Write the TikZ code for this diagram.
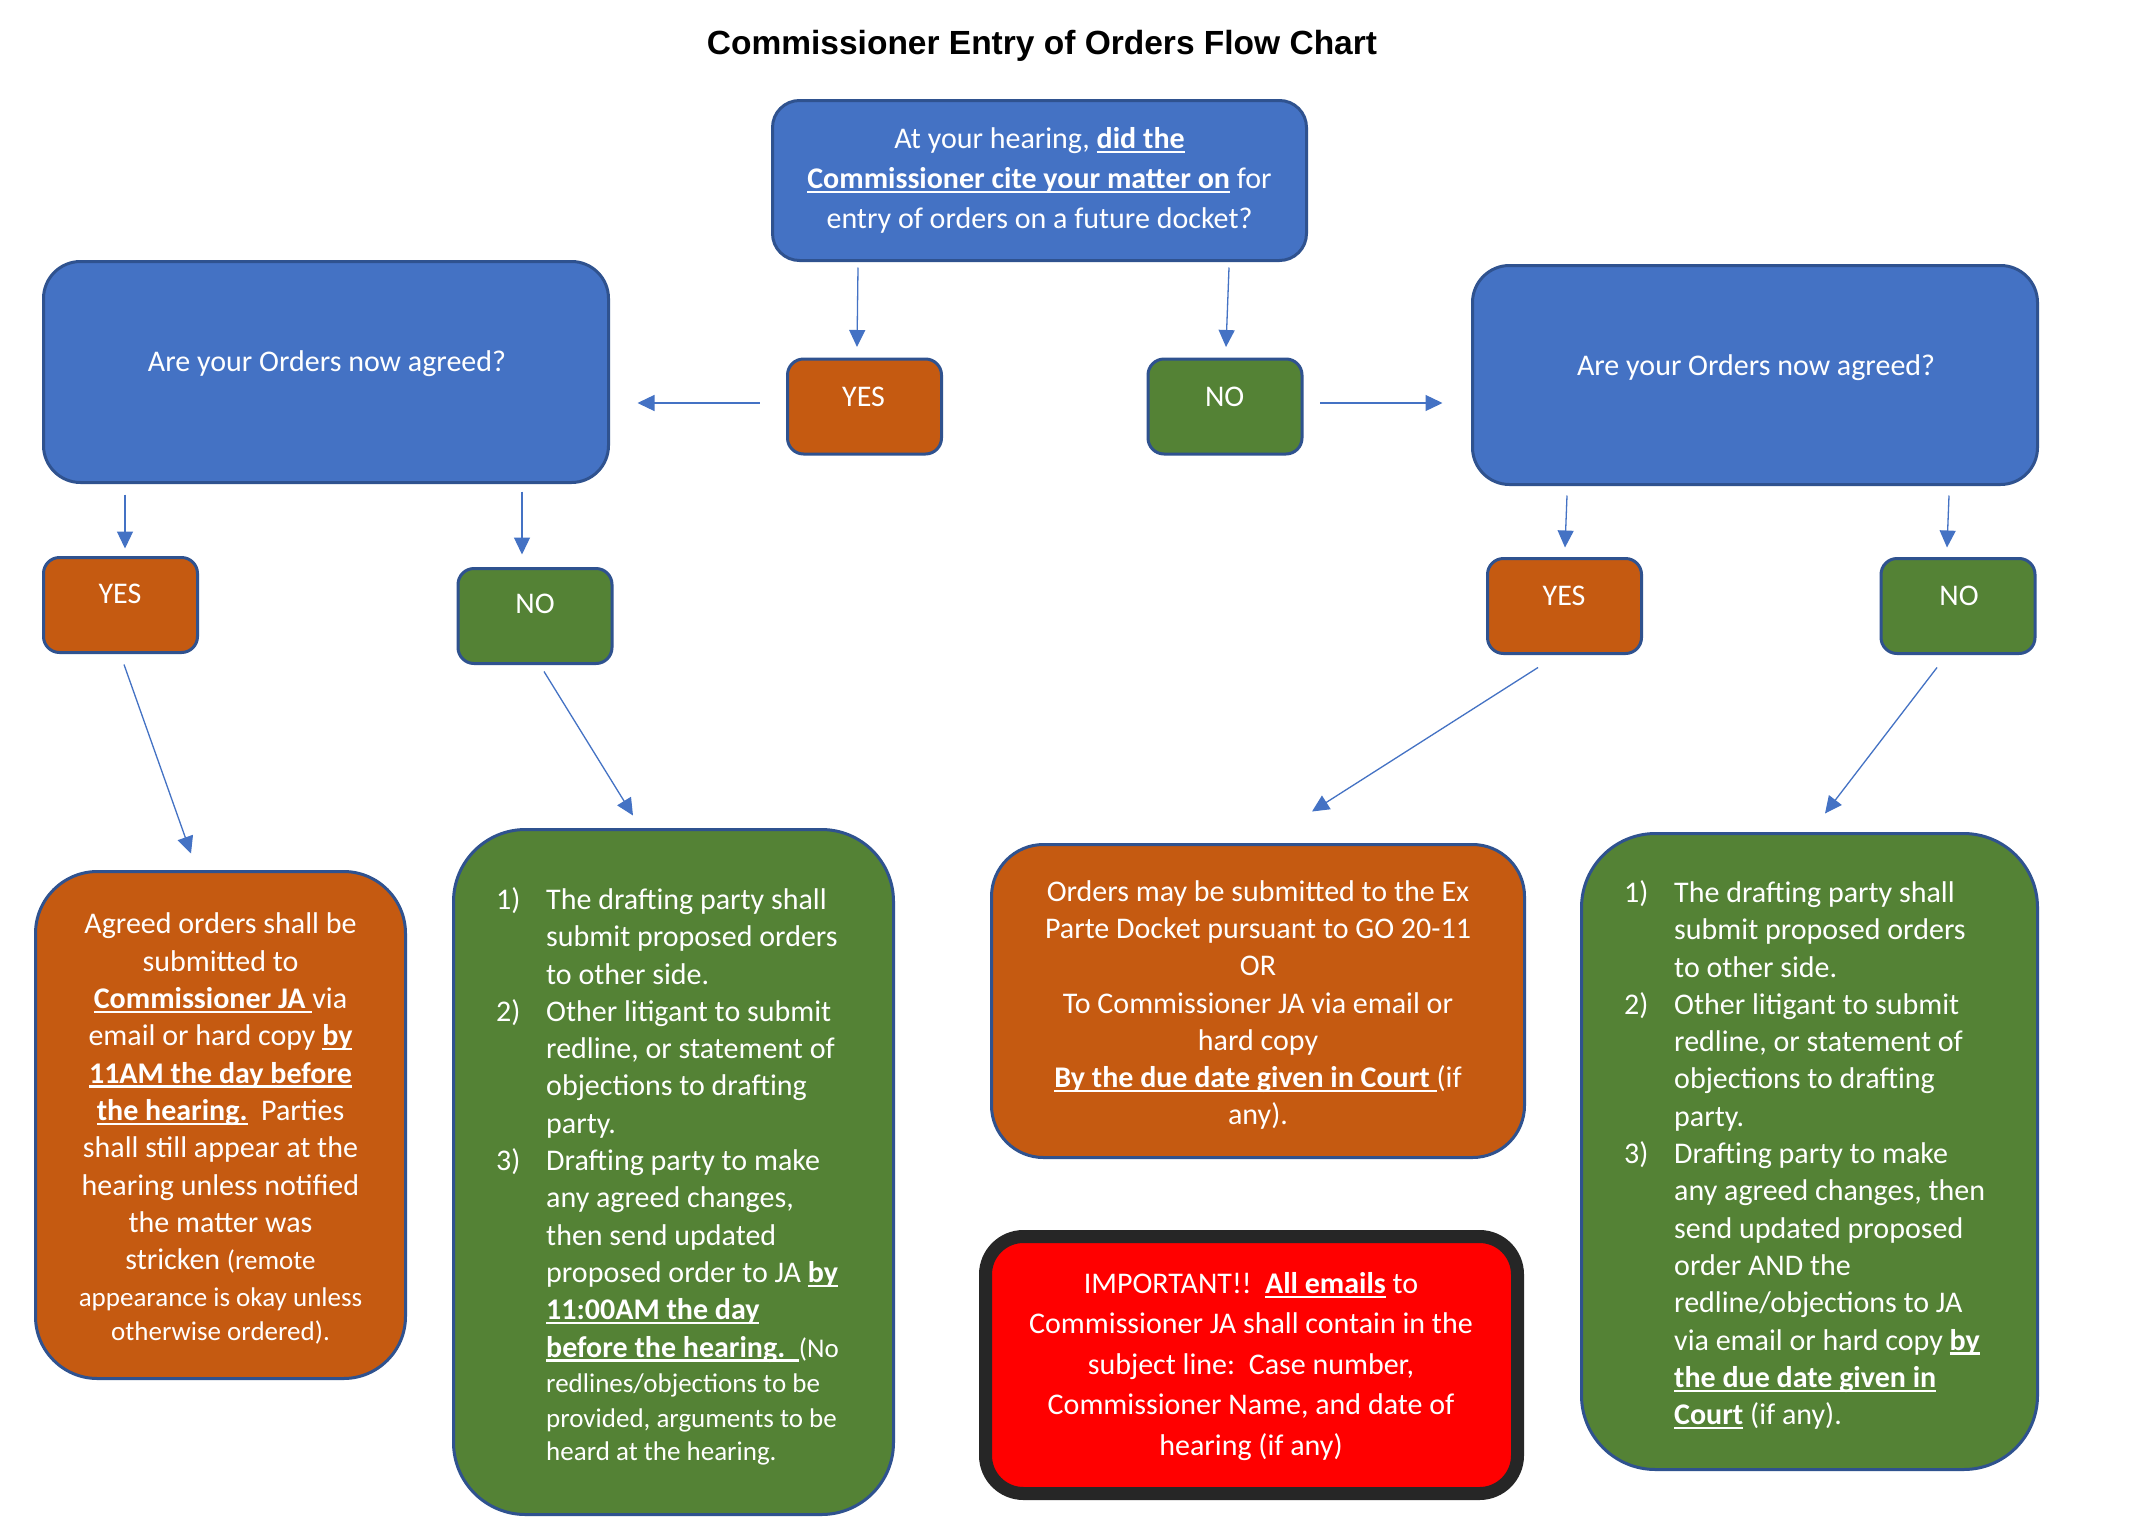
\documentclass[tikz,border=0pt]{standalone}
\usepackage{fontspec}
\setmainfont{Carlito}
\newfontfamily\titlefont{Liberation Sans}
\usetikzlibrary{arrows.meta}
\definecolor{cblue}{HTML}{4472C4}
\definecolor{cbord}{HTML}{2F528F}
\definecolor{corange}{HTML}{C55A11}
\definecolor{cgreen}{HTML}{548235}
\definecolor{cred}{HTML}{FF0000}
\definecolor{cdark}{HTML}{262626}
\newcommand\ulb[1]{\setbox0\hbox{\bfseries #1}\rlap{\rule[-4.5pt]{\wd0}{2.2pt}}\box0\relax}
\newcommand\smtxt{\fontsize{27}{33}\selectfont}
\newcommand\numb[1]{\makebox[50pt][l]{#1}}
\newcommand\indt{\hspace*{50pt}}
\tikzset{
  box/.style={draw=cbord, line width=3pt, inner sep=0pt},
  bluebox/.style={box, fill=cblue},
  orbox/.style={box, fill=corange},
  grbox/.style={box, fill=cgreen},
  smallbox/.style={rounded corners=16pt, minimum width=154pt, minimum height=95pt},
  txt/.style={text=white, inner sep=0pt, font=\fontsize{30}{37.3}\selectfont},
  arr/.style={draw=cblue, line width=1.3pt, -{Triangle[length=17pt,width=16pt]}}
}
\begin{document}
\begin{tikzpicture}[x=1pt,y=-1pt]
\fill[white] (0,0) rectangle (2136,1534);
\useasboundingbox (0,0) rectangle (2136,1534);

\node[font=\titlefont\bfseries\fontsize{33.5}{40}\selectfont, inner sep=0pt] (title) at (1042,46) {Commissioner Entry of Orders Flow Chart};

% boxes
\node[bluebox, rounded corners=27pt, minimum width=534pt, minimum height=160pt] (top) at (1039.5,180.5) {};
\node[bluebox, rounded corners=37pt, minimum width=565pt, minimum height=221pt] (Lbox) at (326,372) {};
\node[bluebox, rounded corners=37pt, minimum width=565pt, minimum height=219pt] (Rbox) at (1755,375) {};
\node[orbox, smallbox] (yesC) at (864.5,406.5) {};
\node[grbox, smallbox] (noC) at (1225,406.5) {};
\node[orbox, smallbox] (yesL) at (120.5,605) {};
\node[grbox, smallbox] (noL) at (535,616) {};
\node[orbox, smallbox] (yesR) at (1564.5,606) {};
\node[grbox, smallbox] (noR) at (1958,606) {};
\node[orbox, rounded corners=62pt, minimum width=370pt, minimum height=507pt] (orL) at (220.5,1125) {};
\node[grbox, rounded corners=72pt, minimum width=440pt, minimum height=685pt] (grL) at (673.5,1172) {};
\node[orbox, rounded corners=52pt, minimum width=533pt, minimum height=313pt] (orM) at (1258,1001) {};
\node[draw=cdark, line width=13pt, fill=cred, inner sep=0pt, rounded corners=38pt, minimum width=532pt, minimum height=257pt] (red) at (1251.5,1365) {};
\node[grbox, rounded corners=74pt, minimum width=456pt, minimum height=636pt] (grR) at (1809.5,1151.5) {};

% texts
\node[txt, align=center, font=\fontsize{30}{40}\selectfont] (topt) at (1039.5,180.5) {At your hearing, \ulb{did the}\\ \ulb{Commissioner cite your matter on} for\\ entry of orders on a future docket?};
\node[txt] (Lboxt) at (327,363.5) {Are your Orders now agreed?};
\node[txt] (Rboxt) at (1756,367.5) {Are your Orders now agreed?};
\node[txt] (yesCt) at (863.6,396.5) {YES};
\node[txt] (noCt) at (1224.6,396.5) {NO};
\node[txt] (yesLt) at (120,594) {YES};
\node[txt] (noLt) at (535,603.5) {NO};
\node[txt] (yesRt) at (1564,595.5) {YES};
\node[txt] (noRt) at (1959,595.5) {NO};

\node[txt, align=center] (orLt) at (220.5,1128.5) {Agreed orders shall be\\ submitted to\\ \ulb{Commissioner JA }via\\ email or hard copy \ulb{by}\\ \ulb{11AM the day before}\\ \ulb{the hearing.}\ \ Parties\\ shall still appear at the\\ hearing unless notified\\ the matter was\\ stricken {\smtxt(remote}\\ {\smtxt appearance is okay unless}\\[-4pt] {\smtxt otherwise ordered).}};

\node[txt, align=left, anchor=west] (grLt) at (496,1176.5) {\numb{1)}The drafting party shall\\ \indt submit proposed orders\\ \indt to other side.\\ \numb{2)}Other litigant to submit\\ \indt redline, or statement of\\ \indt objections to drafting\\ \indt party.\\ \numb{3)}Drafting party to make\\ \indt any agreed changes,\\ \indt then send updated\\ \indt proposed order to JA \ulb{by}\\ \indt\ulb{11:00AM the day}\\ \indt\ulb{before the hearing.\ \ }{\smtxt(No}\\[-2pt] \indt{\smtxt redlines/objections to be}\\[-2pt] \indt{\smtxt provided, arguments to be}\\[-4pt] \indt{\smtxt heard at the hearing.}};

\node[txt, align=center] (orMt) at (1258,1005) {Orders may be submitted to the Ex\\ Parte Docket pursuant to GO 20-11\\ OR\\ To Commissioner JA via email or\\ hard copy\\ \ulb{By the due date given in Court }(if\\ any).};

\node[txt, align=center, font=\fontsize{30}{40.5}\selectfont] (redt) at (1251,1366.5) {IMPORTANT!!\ \ \ulb{All emails} to\\ Commissioner JA shall contain in the\\ subject line:\ \ Case number,\\ Commissioner Name, and date of\\ hearing (if any)};

\node[txt, align=left, anchor=west] (grRt) at (1624,1155) {\numb{1)}The drafting party shall\\ \indt submit proposed orders\\ \indt to other side.\\ \numb{2)}Other litigant to submit\\ \indt redline, or statement of\\ \indt objections to drafting\\ \indt party.\\ \numb{3)}Drafting party to make\\ \indt any agreed changes, then\\ \indt send updated proposed\\ \indt order AND the\\ \indt redline/objections to JA\\ \indt via email or hard copy \ulb{by}\\ \indt\ulb{the due date given in}\\ \indt\ulb{Court} (if any).};

% arrows
\draw[arr] ([xshift=-181.5pt,yshift=-5.5pt]top.south) -- ([xshift=-7.5pt,yshift=10.5pt]yesC.north);
\draw[arr] ([xshift=189.5pt,yshift=-5.5pt]top.south) -- ([xshift=1pt,yshift=10.5pt]noC.north);
\draw[arr] ([xshift=-26.5pt,yshift=3.5pt]yesC.west) -- ([xshift=27.5pt,yshift=-31pt]Lbox.east);
\draw[arr] ([xshift=16.5pt,yshift=3.5pt]noC.east) -- ([xshift=-28.5pt,yshift=-28pt]Rbox.west);
\draw[arr] ([xshift=-201pt,yshift=-10.5pt]Lbox.south) -- ([xshift=4.5pt,yshift=7.5pt]yesL.north);
\draw[arr] ([xshift=196pt,yshift=-7.5pt]Lbox.south) -- ([xshift=-13pt,yshift=12.5pt]noL.north);
\draw[arr] ([xshift=3.5pt,yshift=-10.5pt]yesL.south) -- ([xshift=-29.5pt,yshift=16.5pt]orL.north);
\draw[arr] ([xshift=9pt,yshift=-6.5pt]noL.south) -- ([xshift=-40.5pt,yshift=12.5pt]grL.north);
\draw[arr] ([xshift=-188pt,yshift=-9.5pt]Rbox.south) -- ([xshift=0.5pt,yshift=9.5pt]yesR.north);
\draw[arr] ([xshift=194pt,yshift=-9.5pt]Rbox.south) -- ([xshift=-11pt,yshift=9.5pt]noR.north);
\draw[arr] ([xshift=-26.5pt,yshift=-12.5pt]yesR.south) -- ([xshift=54pt,yshift=31.5pt]orM.north);
\draw[arr] ([xshift=-21pt,yshift=-12.5pt]noR.south) -- ([xshift=15.5pt,yshift=18.5pt]grR.north);
\end{tikzpicture}
\end{document}
